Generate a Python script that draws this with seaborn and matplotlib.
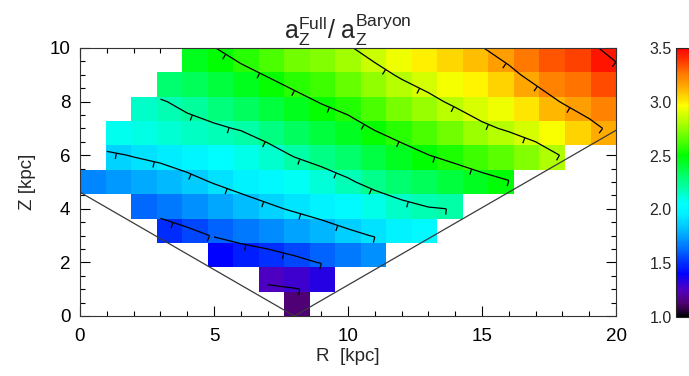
import numpy as np
import matplotlib
matplotlib.use("Agg")
import matplotlib.pyplot as plt
import seaborn as sns
from matplotlib.colors import LinearSegmentedColormap
from matplotlib.collections import LineCollection
from matplotlib.ticker import MultipleLocator

# a_Z(full) / a_Z(baryon) per cell. Grid nodes R = 0..20 kpc, Z = 0..10 kpc.
# Each row: first filled column, then the values of that row.
row_start = [8, 7, 5, 3, 2, 0, 1, 1, 2, 3, 4]
row_values = [
    [1.13],
    [1.26, 1.29, 1.34],
    [1.41, 1.46, 1.50, 1.55, 1.61, 1.66, 1.71],
    [1.49, 1.55, 1.61, 1.66, 1.70, 1.75, 1.80, 1.86, 1.91, 1.97, 2.02],
    [1.62, 1.66, 1.71, 1.76, 1.82, 1.87, 1.92, 1.97, 2.02, 2.09, 2.15, 2.19, 2.205],
    [1.69, 1.73, 1.765, 1.805, 1.85, 1.91, 1.96, 2.01, 2.07, 2.12, 2.18, 2.25, 2.30,
     2.345, 2.39, 2.44, 2.49],
    [1.87, 1.91, 1.94, 1.99, 2.04, 2.09, 2.14, 2.21, 2.26, 2.31, 2.38, 2.44, 2.498,
     2.55, 2.61, 2.66, 2.72, 2.81],
    [2.08, 2.10, 2.13, 2.16, 2.18, 2.21, 2.27, 2.33, 2.39, 2.44, 2.51, 2.57, 2.63,
     2.69, 2.77, 2.82, 2.88, 2.96, 3.06, 3.14],
    [2.15, 2.19, 2.23, 2.28, 2.33, 2.39, 2.45, 2.51, 2.56, 2.63, 2.70, 2.76, 2.83,
     2.89, 2.94, 3.02, 3.11, 3.17, 3.24],
    [2.30, 2.34, 2.39, 2.45, 2.51, 2.57, 2.61, 2.67, 2.75, 2.82, 2.88, 2.95, 2.99,
     3.06, 3.15, 3.24, 3.27, 3.35],
    [2.45, 2.495, 2.57, 2.63, 2.69, 2.72, 2.785, 2.86, 2.935, 3.00, 3.05, 3.095, 3.17,
     3.26, 3.33, 3.37, 3.455],
]
contour_levels = [1.3, 1.6, 1.9, 2.2, 2.5, 2.8, 3.1, 3.4]
cbar_ticks = [1.0, 1.5, 2.0, 2.5, 3.0, 3.5]

# survey cone seen from the Sun
r_sun = 8.0
cone_deg = 30.0
cone_r = [0.0, 8.0, 20.0]

# IDL-like rainbow colour table
cmap_vals = [1.0, 1.12, 1.25, 1.40, 1.75, 1.95, 2.05, 2.5, 2.75, 2.97, 3.1, 3.25, 3.5]
cmap_cols = ["#000000", "#500070", "#5000c0", "#0000ff", "#00a5ff", "#00f0ff", "#00ffff",
             "#00ff00", "#90ff00", "#ffff00", "#ffbe00", "#ff8000", "#ff0000"]

# ---------------------------------------------------------------------------
grid = np.full((11, 21), np.nan)
for j, (i0, vals) in enumerate(zip(row_start, row_values)):
    grid[j, i0:i0 + len(vals)] = vals
masked = np.ma.masked_invalid(grid)

node_r = np.arange(21)
node_z = np.arange(11)
edge_r = np.linspace(0, 20, 22)
edge_z = np.linspace(0, 10, 12)

vmin, vmax = cmap_vals[0], cmap_vals[-1]
cmap = LinearSegmentedColormap.from_list(
    "idl", [((v - vmin) / (vmax - vmin), c) for v, c in zip(cmap_vals, cmap_cols)], N=256)


def value_at(r, z):
    i = int(np.clip(np.floor(r), 0, 19))
    j = int(np.clip(np.floor(z), 0, 9))
    fr, fz = r - i, z - j
    q = grid[j:j + 2, i:i + 2]
    return (q[0, 0] * (1 - fr) * (1 - fz) + q[0, 1] * fr * (1 - fz)
            + q[1, 0] * (1 - fr) * fz + q[1, 1] * fr * fz)


def downhill_ticks(segs, spacing=1.45, length=0.22):
    out = []
    for seg in segs:
        seg = np.asarray(seg)
        if len(seg) < 2:
            continue
        if seg[0, 0] > seg[-1, 0]:
            seg = seg[::-1]
        d = np.hypot(*np.diff(seg, axis=0).T)
        seg = seg[np.r_[True, d > 1e-9]]
        if len(seg) < 2:
            continue
        d = np.hypot(*np.diff(seg, axis=0).T)
        s = np.r_[0, np.cumsum(d)]
        tang = np.diff(seg, axis=0) / d[:, None]
        norm = np.c_[-tang[:, 1], tang[:, 0]]
        # which side is uphill
        votes = []
        for k in range(len(d)):
            mid = 0.5 * (seg[k] + seg[k + 1])
            a = value_at(*(mid + 0.12 * norm[k]))
            b = value_at(*(mid - 0.12 * norm[k]))
            if np.isfinite(a) and np.isfinite(b):
                votes.append(np.sign(a - b))
        sign = -1.0 if (np.sum(votes) if votes else 1) > 0 else 1.0
        for t in np.arange(s[-1], -1e-9, -spacing):
            k = min(max(np.searchsorted(s, t, side="right") - 1, 0), len(d) - 1)
            p = seg[k] + (t - s[k]) / d[k] * (seg[k + 1] - seg[k])
            out.append([p, p + sign * length * norm[k]])
    return out


sns.set_style("ticks", {"xtick.direction": "in", "ytick.direction": "in"})
plt.rcParams["font.family"] = ["Liberation Sans", "DejaVu Sans"]
plt.rcParams["mathtext.fontset"] = "custom"
plt.rcParams["mathtext.rm"] = "Liberation Sans"
plt.rcParams["mathtext.it"] = "Liberation Sans:italic"

fig = plt.figure(figsize=(6.89, 3.76), dpi=100)
ax = fig.add_axes([0.1161, 0.1596, 0.778, 0.7128])
cax = fig.add_axes([0.981, 0.157, 0.019, 0.715])

mesh = ax.pcolormesh(edge_r, edge_z, masked, cmap=cmap, vmin=vmin, vmax=vmax, shading="flat")

cs = ax.contour(node_r, node_z, masked, levels=contour_levels, colors="black",
                linewidths=0.9, corner_mask=False)
ticks = []
for segs in cs.allsegs:
    ticks += downhill_ticks(segs)
ax.add_collection(LineCollection(ticks, colors="black", linewidths=0.9))

cone_z = [np.tan(np.radians(cone_deg)) * abs(r - r_sun) for r in cone_r]
sns.lineplot(x=cone_r, y=cone_z, sort=False, color="#3a3a3a", linewidth=0.9, ax=ax)

ax.set_xlim(0, 20)
ax.set_ylim(0, 10)
ax.set_xticks([0, 5, 10, 15, 20])
ax.set_yticks([0, 2, 4, 6, 8, 10])
ax.xaxis.set_minor_locator(MultipleLocator(1))
ax.yaxis.set_minor_locator(MultipleLocator(0.5))
ax.tick_params(which="both", direction="in", top=True, right=True, width=0.8, colors="black")
ax.tick_params(which="major", length=7, labelsize=13.5)
ax.tick_params(axis="x", which="major", pad=9)
ax.tick_params(axis="y", which="major", pad=7)
ax.tick_params(which="minor", length=3.5)
for sp in ax.spines.values():
    sp.set_linewidth(0.8)
    sp.set_color("#333333")

ax.set_xlabel("R  [kpc]", fontsize=13.5, labelpad=2)
ax.set_ylabel("Z [kpc]", fontsize=13.5, labelpad=10)
ax.set_title(r"$\mathregular{a_Z^{Full}/\ a_Z^{Baryon}}$", fontsize=18, pad=6)

cb = fig.colorbar(mesh, cax=cax, ticks=cbar_ticks)
cb.ax.yaxis.set_ticks_position("left")
cb.ax.yaxis.set_label_position("left")
cb.ax.yaxis.set_minor_locator(MultipleLocator(0.25))
cb.ax.set_yticklabels([f"{t:.1f}" for t in cbar_ticks])
cb.ax.tick_params(which="both", direction="in", labelsize=11.5, pad=3, width=0.7)
cb.ax.tick_params(which="major", length=4)
cb.ax.tick_params(which="minor", length=2)
cb.outline.set_linewidth(0.8)

fig.savefig("out.png", dpi=100)
